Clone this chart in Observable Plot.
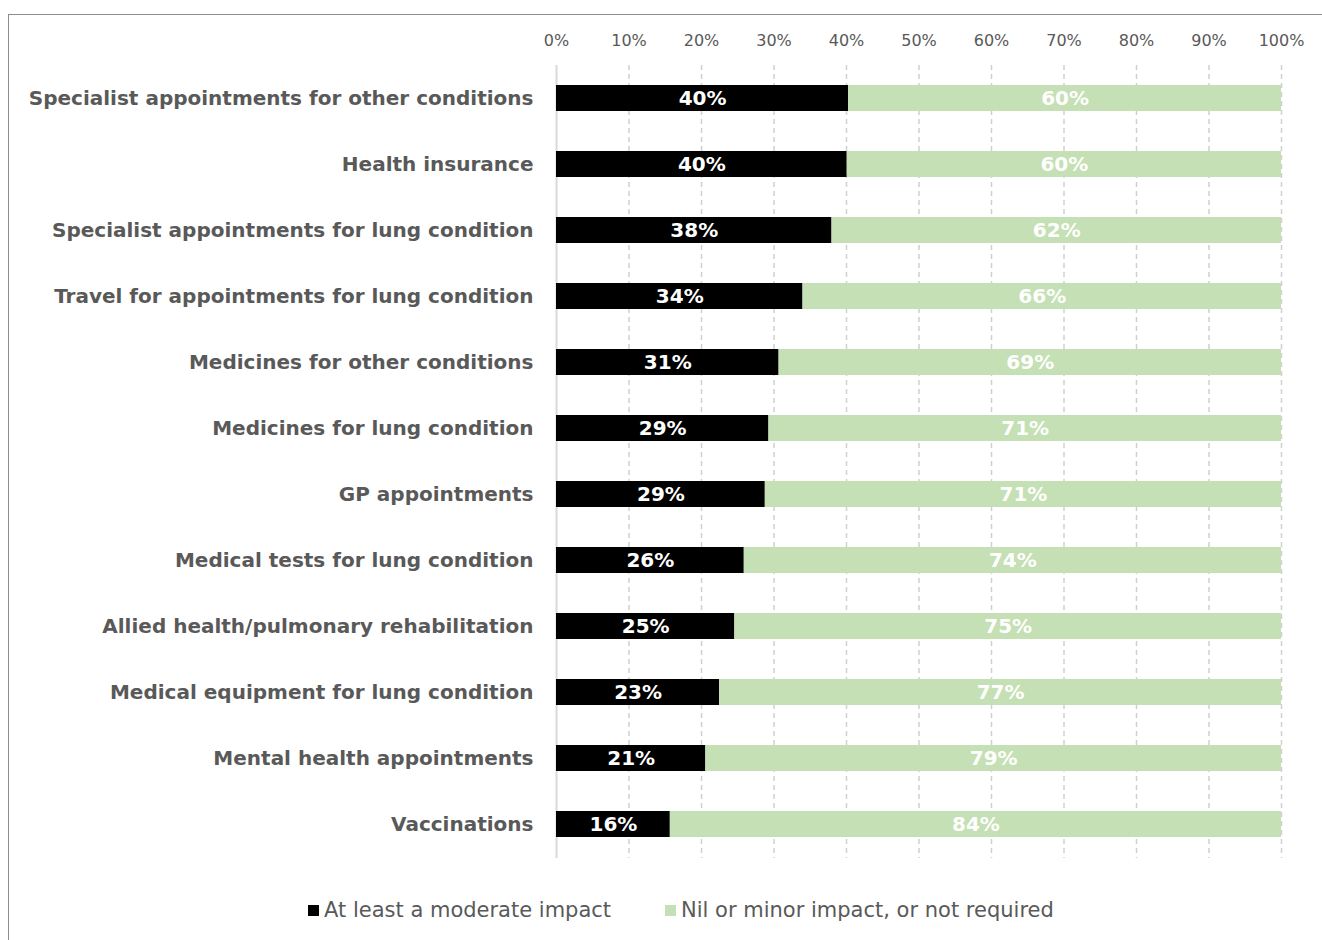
<!DOCTYPE html>
<html>
<head>
<meta charset="utf-8">
<script src="https://cdn.jsdelivr.net/npm/d3@7"></script>
<script src="https://cdn.jsdelivr.net/npm/@observablehq/plot@0.6"></script>
<style>
  html, body { margin: 0; padding: 0; background: #fff; overflow: hidden; width: 1322px; height: 940px; }
  #frame { position: absolute; left: 8px; top: 14px; width: 1400px; height: 1000px; border: 1px solid #8c8c8c; box-sizing: border-box; }
  #chart { position: absolute; left: 0; top: 0; }
  #legend { position: absolute; top: 898px; left: 0; width: 1322px; font-family: "DejaVu Sans", sans-serif; font-size: 21px; color: #595959; }
  .item { position: absolute; display: flex; align-items: center; white-space: nowrap; }
  .sw { width: 11px; height: 11px; margin-right: 5px; display: inline-block; }
</style>
</head>
<body>
<div id="frame"></div>
<div id="chart"></div>
<div id="legend"></div>
<script>
const categories = [
  "Specialist appointments for other conditions",
  "Health insurance",
  "Specialist appointments for lung condition",
  "Travel for appointments for lung condition",
  "Medicines for other conditions",
  "Medicines for lung condition",
  "GP appointments",
  "Medical tests for lung condition",
  "Allied health/pulmonary rehabilitation",
  "Medical equipment for lung condition",
  "Mental health appointments",
  "Vaccinations"
];
const moderate = [40.3, 40.1, 38.0, 34.0, 30.7, 29.3, 28.8, 25.9, 24.6, 22.5, 20.6, 15.7];
const moderateLabels = [40, 40, 38, 34, 31, 29, 29, 26, 25, 23, 21, 16];
const minorLabels = [60, 60, 62, 66, 69, 71, 71, 74, 75, 77, 79, 84];
const seriesNames = ["At least a moderate impact", "Nil or minor impact, or not required"];
const seriesColors = ["#000000", "#c5e0b4"];
const xTicks = [0, 10, 20, 30, 40, 50, 60, 70, 80, 90, 100];

const rows = [];
categories.forEach((c, i) => {
  rows.push({cat: c, series: seriesNames[0], value: moderate[i], label: moderateLabels[i] + "%"});
  rows.push({cat: c, series: seriesNames[1], value: 100 - moderate[i], label: minorLabels[i] + "%"});
});

const font = "'DejaVu Sans', sans-serif";
const chart = Plot.plot({
  width: 1322,
  height: 870,
  marginLeft: 556,
  marginRight: 41,
  marginTop: 65,
  marginBottom: 12,
  style: {fontFamily: font, background: "transparent", overflow: "visible"},
  x: {domain: [0, 100], axis: null},
  y: {domain: categories, paddingInner: 0.6, paddingOuter: 0.3, axis: null},
  color: {domain: seriesNames, range: seriesColors},
  marks: [
    Plot.gridX(xTicks.slice(1), {stroke: "#d0d0d0", strokeOpacity: 1, strokeWidth: 1.5, strokeDasharray: "5,4"}),
    Plot.ruleX([0], {stroke: "#d9d9d9", strokeWidth: 2}),
    Plot.axisX({anchor: "top", label: null, ticks: xTicks, tickSize: 0, tickPadding: 20, tickFormat: d => d + "%", fontSize: 16, fill: "#595959"}),
    Plot.axisY({label: null, tickSize: 0, tickPadding: 23, fontSize: 20, fontWeight: "bold", fill: "#595959"}),
    Plot.barX(rows, Plot.stackX({y: "cat", x: "value", fill: "series"})),
    Plot.text(rows, Plot.stackX({y: "cat", x: "value", text: "label", fill: "white", fontSize: 20, fontWeight: "bold"}))
  ]
});
document.getElementById("chart").appendChild(chart);

const legend = document.getElementById("legend");
const lefts = [308, 665];
seriesNames.forEach((s, i) => {
  const it = document.createElement("div");
  it.className = "item";
  it.style.left = lefts[i] + "px";
  const sw = document.createElement("span");
  sw.className = "sw";
  sw.style.background = seriesColors[i];
  it.appendChild(sw);
  it.appendChild(document.createTextNode(s));
  legend.appendChild(it);
});
</script>
</body>
</html>
